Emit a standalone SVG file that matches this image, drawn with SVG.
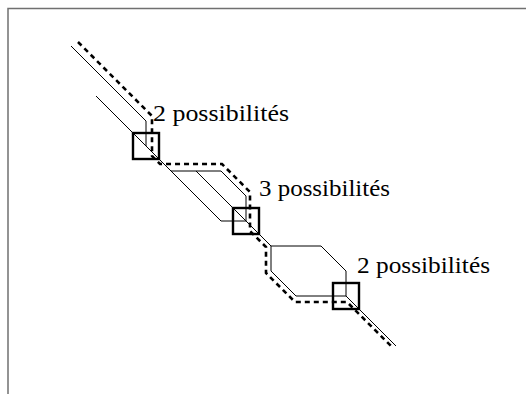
<svg xmlns="http://www.w3.org/2000/svg" width="526" height="394" viewBox="0 0 526 394">
  <style>
    .frame { fill: none; stroke: #707070; stroke-width: 1.5; }
    .track { fill: none; stroke: #000; stroke-width: 1; stroke-linejoin: miter; }
    .route { fill: none; stroke: #000; stroke-width: 2.6; stroke-dasharray: 5 4; }
    .switch { fill: none; stroke: #000; stroke-width: 2.4; }
    .label { font-family: "Liberation Serif", "Times New Roman", serif; font-size: 22.5px; fill: #000; }
  </style>
  <rect width="526" height="394" fill="#fff"/>
  <path class="frame" d="M8,394 V8.5 H526"/>

  <g id="connectors">
    <!-- incoming tracks -->
    <path class="track" d="M71,46 L146,121 L146,146"/>
    <path class="track" d="M96,96 L171,171"/>
    <!-- three-way fan -->
    <path class="track" d="M171,171 L221,171"/>
    <path class="track" d="M171,171 L221,221 L246,221"/>
    <path class="track" d="M196,171 L246,221"/>
    <path class="track" d="M221,171 L246,196 L246,221"/>
    <!-- two-way loop -->
    <path class="track" d="M246,221 L271,246"/>
    <path class="track" d="M271,246 L321,246 L346,271 L346,296"/>
    <path class="track" d="M271,246 L271,271 L296,296 L346,296"/>
    <!-- outgoing track -->
    <path class="track" d="M346,296 L396,346"/>
    <!-- chosen route -->
    <path class="route" d="M78,42 L152,116 L152,156 L160,164 L222,164 L250,192 L250,231 L266,247 L266,273 L295,302 L347,302 L392,347"/>
  </g>

  <g id="switch1">
    <rect class="switch" x="133" y="133" width="26" height="26"/>
    <text class="label" x="153" y="121" textLength="136" lengthAdjust="spacingAndGlyphs">2 possibilités</text>
  </g>
  <g id="switch2">
    <rect class="switch" x="233" y="208" width="26" height="26"/>
    <text class="label" x="259" y="196" textLength="131" lengthAdjust="spacingAndGlyphs">3 possibilités</text>
  </g>
  <g id="switch3">
    <rect class="switch" x="333" y="283" width="26" height="26"/>
    <text class="label" x="357" y="273" textLength="133" lengthAdjust="spacingAndGlyphs">2 possibilités</text>
  </g>
</svg>
